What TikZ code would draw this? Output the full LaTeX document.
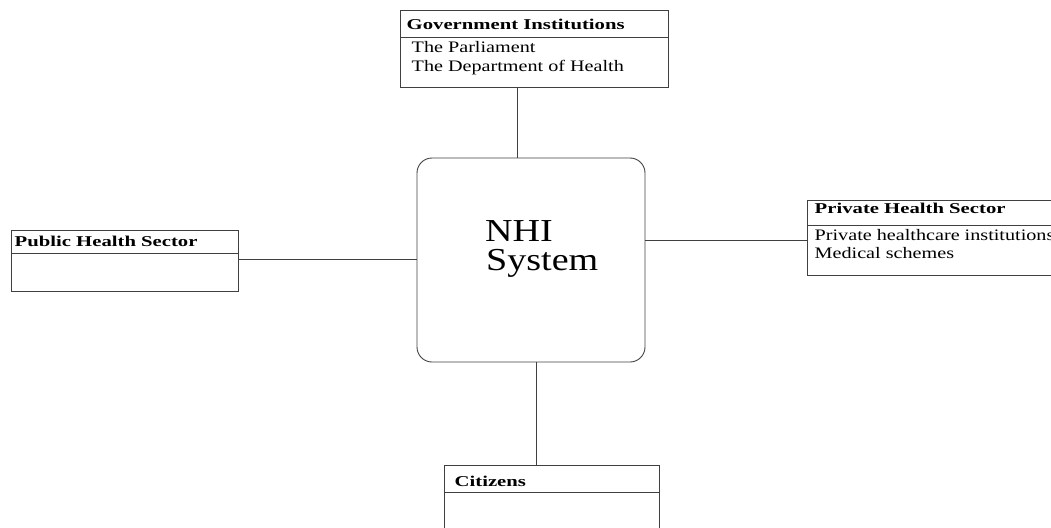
\documentclass[tikz,border=0pt]{standalone}
\usepackage{fontspec}
\setmainfont{Liberation Serif}
\newfontfamily\headfont[FakeStretch=1.38]{Liberation Serif Bold}
\newfontfamily\bodyfont[FakeStretch=1.26]{Liberation Serif}
\newfontfamily\bigfont[FakeStretch=1.19]{Liberation Serif}
\begin{document}
\begin{tikzpicture}[x=1pt,y=-1pt,
  frame/.style={draw=black!75, line width=0.9pt},
  box/.style={frame, rectangle, inner sep=0pt, outer sep=0pt, anchor=north west},
  head/.style={anchor=base west, inner sep=0pt, font=\headfont\fontsize{15}{18}\selectfont},
  body/.style={anchor=base west, inner sep=0pt, font=\bodyfont\fontsize{16}{19}\selectfont},
  link/.style={draw=black!75, line width=0.9pt}]
\useasboundingbox (0,0) rectangle (1051,527);
\clip (0,0) rectangle (1051,527);

% central system
\node[box, rounded corners=15pt, minimum width=228pt, minimum height=204pt] (nhi) at (417,158) {};
\node[anchor=base west, inner sep=0pt, font=\bigfont\fontsize{32}{29}\selectfont] (nhitxt) at (485,241) {NHI};
\node[anchor=base west, inner sep=0pt, font=\bigfont\fontsize{32}{29}\selectfont] (systxt) at (486,270) {System};

% government institutions
\node[box, minimum width=268pt, minimum height=77pt] (gov) at (400,10) {};
\draw[frame] (gov.west |- 0,37.7) -- (gov.east |- 0,37.7);
\node[head] (govh) at (406.5,30) {Government Institutions};
\node[body] (gov1) at (411.5,52.7) {The Parliament};
\node[body] (gov2) at (411.5,71.7) {The Department of Health};

% private health sector
\node[box, minimum width=270pt, minimum height=75pt] (priv) at (807,200) {};
\draw[frame] (priv.west |- 0,225.7) -- (priv.east |- 0,225.7);
\node[head] (privh) at (814.5,213.3) {Private Health Sector};
\node[body] (priv1) at (814.5,240) {Private healthcare institutions};
\node[body] (priv2) at (814.5,258.3) {Medical schemes};

% public health sector
\node[box, minimum width=227pt, minimum height=61.5pt] (pub) at (11,230) {};
\draw[frame] (pub.west |- 0,253.3) -- (pub.east |- 0,253.3);
\node[head] (pubh) at (14.5,246) {Public Health Sector};

% citizens
\node[box, minimum width=215pt, minimum height=80pt] (cit) at (444,465) {};
\draw[frame] (cit.west |- 0,492.3) -- (cit.east |- 0,492.3);
\node[head] (cith) at (454.5,486) {Citizens};

% connectors
\draw[link] (517.3,0 |- gov.south) -- (517.3,0 |- nhi.north);
\draw[link] (0,240 -| nhi.east) -- (0,240 -| priv.west);
\draw[link] (0,259 -| pub.east) -- (0,259 -| nhi.west);
\draw[link] (536.7,0 |- nhi.south) -- (536.7,0 |- cit.north);
\end{tikzpicture}
\end{document}
